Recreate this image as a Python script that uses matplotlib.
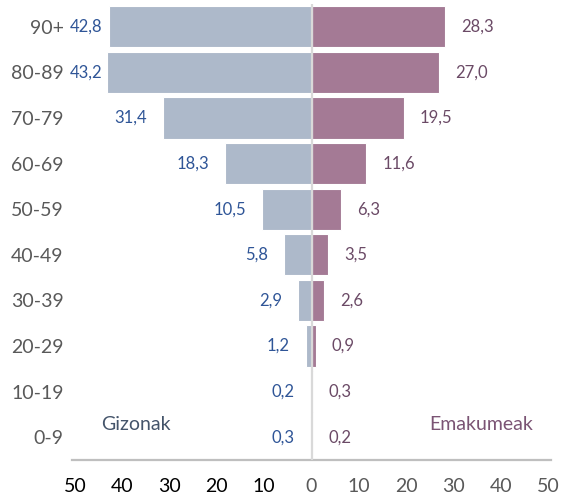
import matplotlib
matplotlib.use("Agg")
import matplotlib.pyplot as plt
import numpy as np

plt.rcParams["font.family"] = ["Lato", "DejaVu Sans"]

# data
AGES = ["0-9", "10-19", "20-29", "30-39", "40-49", "50-59", "60-69", "70-79", "80-89", "90+"]
MEN = [0.3, 0.2, 1.2, 2.9, 5.8, 10.5, 18.3, 31.4, 43.2, 42.8]
WOMEN = [0.2, 0.3, 0.9, 2.6, 3.5, 6.3, 11.6, 19.5, 27.0, 28.3]
TICKS = [-50, -40, -30, -20, -10, 0, 10, 20, 30, 40, 50]

C_MEN, C_WOMEN = "#adb9ca", "#a47a95"
T_MEN, T_WOMEN = "#2f5597", "#6b4a66"
GAP = 3.4        # label offset from bar end, data units
LEFT_STOP = -44.2

fig = plt.figure(figsize=(5.62, 5.03), dpi=100)
ax = fig.add_axes([72 / 562, 43 / 503, 479 / 562, 456 / 503])

y = np.arange(len(AGES))
ax.barh(y, [-m for m in MEN], height=0.9, color=C_MEN, edgecolor="white", linewidth=0.8, zorder=2)
ax.barh(y, WOMEN, height=0.9, color=C_WOMEN, edgecolor="white", linewidth=0.8, zorder=2)
ax.axvline(0, color="#d9d9d9", lw=1.6, zorder=3)

for yi, m, w in zip(y, MEN, WOMEN):
    ax.text(max(-(m + GAP), LEFT_STOP), yi, f"{m:.1f}".replace(".", ","), ha="right", va="center",
            fontsize=12, color=T_MEN)
    ax.text(w + GAP, yi, f"{w:.1f}".replace(".", ","), ha="left", va="center",
            fontsize=12, color=T_WOMEN)

ax.text(-44.4, 0.27, "Gizonak", ha="left", va="center", fontsize=14, color="#44546a")
ax.text(46.8, 0.27, "Emakumeak", ha="right", va="center", fontsize=14, color="#7b5474")

ax.set_xlim(-50.64, 50.64)
ax.set_ylim(-0.5, len(AGES) - 0.5)
ax.set_yticks(y)
ax.set_yticklabels(AGES, fontsize=14, color="#595959")
ax.set_xticks(TICKS)
ax.set_xticklabels([str(abs(t)) for t in TICKS], fontsize=14)
for t, lab in zip(TICKS, ax.get_xticklabels()):
    lab.set_color("#000000" if t < 0 else "#595959")
ax.tick_params(axis="both", length=0)
ax.tick_params(axis="x", pad=13)
ax.tick_params(axis="y", pad=6)

for s in ("top", "left", "right"):
    ax.spines[s].set_visible(False)
ax.spines["bottom"].set_color("#bfbfbf")
ax.spines["bottom"].set_linewidth(1.6)

fig.savefig("out.png", dpi=100)
